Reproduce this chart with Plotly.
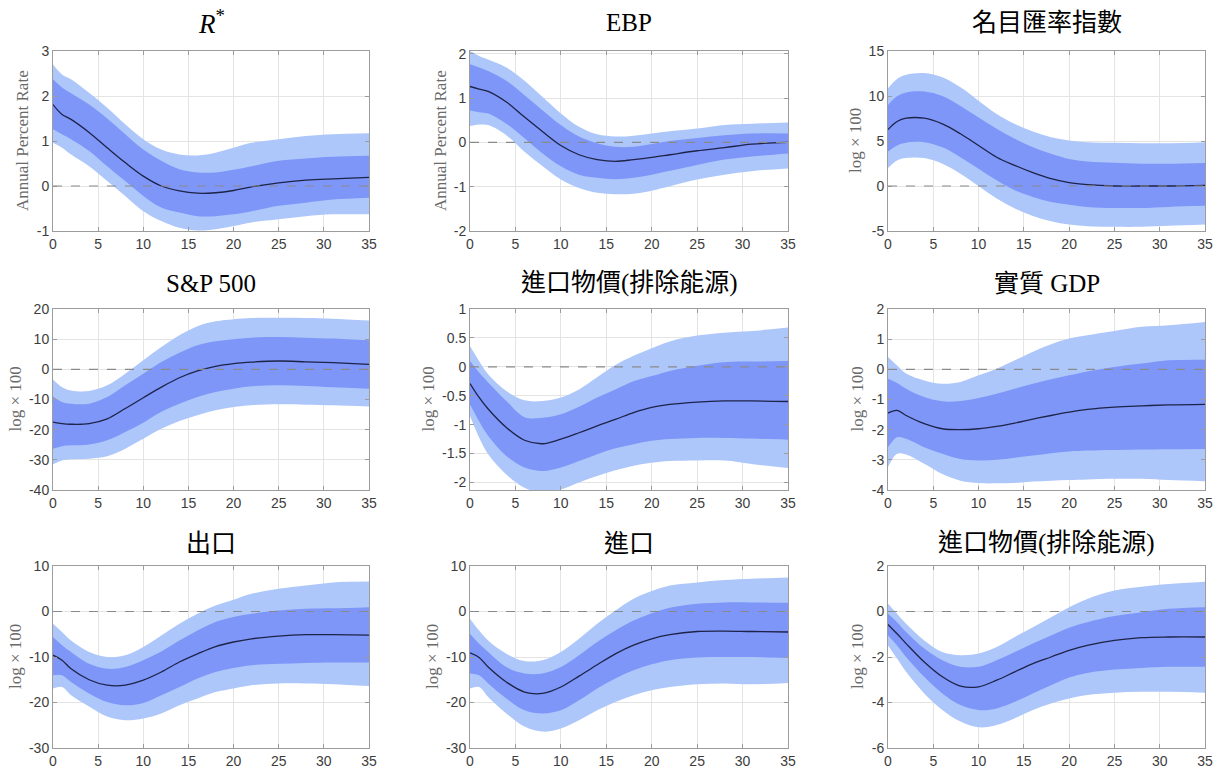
import plotly.graph_objects as go

# ---------------- data ----------------
HORIZON = [0, 1, 2, 4, 6, 8, 10, 12, 14, 16, 18, 20, 22, 25, 28, 31, 35]
X_TICKS = [0, 5, 10, 15, 20, 25, 30, 35]

# R*
rstar_med = [1.81, 1.59, 1.48, 1.19, 0.85, 0.52, 0.22, 0.0, -0.11, -0.16, -0.15, -0.1, -0.02, 0.07, 0.13, 0.16, 0.19]
rstar_in_hi = [2.37, 2.19, 2.06, 1.81, 1.5, 1.15, 0.81, 0.56, 0.37, 0.3, 0.3, 0.36, 0.44, 0.56, 0.61, 0.65, 0.67]
rstar_in_lo = [1.26, 1.15, 1.04, 0.78, 0.44, 0.11, -0.22, -0.48, -0.59, -0.67, -0.67, -0.63, -0.56, -0.44, -0.37, -0.3, -0.26]
rstar_out_hi = [2.7, 2.48, 2.37, 2.07, 1.74, 1.37, 1.04, 0.81, 0.7, 0.68, 0.74, 0.85, 0.96, 1.04, 1.11, 1.15, 1.17]
rstar_out_lo = [0.96, 0.85, 0.7, 0.44, 0.11, -0.22, -0.56, -0.78, -0.93, -0.99, -0.96, -0.89, -0.81, -0.74, -0.67, -0.63, -0.63]

# EBP
ebp_med = [1.26, 1.2, 1.15, 0.91, 0.57, 0.24, -0.07, -0.28, -0.39, -0.43, -0.39, -0.34, -0.28, -0.19, -0.12, -0.04, 0.0]
ebp_in_hi = [1.76, 1.69, 1.61, 1.39, 1.06, 0.72, 0.39, 0.13, -0.02, -0.1, -0.1, -0.04, 0.03, 0.1, 0.16, 0.2, 0.2]
ebp_in_lo = [0.72, 0.68, 0.65, 0.42, 0.09, -0.25, -0.54, -0.73, -0.8, -0.83, -0.8, -0.73, -0.64, -0.51, -0.39, -0.32, -0.25]
ebp_out_hi = [2.06, 1.95, 1.87, 1.69, 1.39, 1.02, 0.65, 0.35, 0.18, 0.13, 0.15, 0.2, 0.25, 0.31, 0.39, 0.42, 0.45]
ebp_out_lo = [0.37, 0.4, 0.39, 0.16, -0.21, -0.54, -0.84, -1.03, -1.14, -1.17, -1.16, -1.09, -0.99, -0.84, -0.73, -0.65, -0.59]

# 名目匯率指數
fx_med = [6.27, 7.16, 7.53, 7.53, 6.9, 5.8, 4.5, 3.2, 2.29, 1.48, 0.81, 0.37, 0.15, 0.0, 0.0, 0.0, 0.07]
fx_in_hi = [9.0, 9.96, 10.4, 10.5, 10.0, 8.9, 7.6, 6.35, 5.24, 4.3, 3.58, 3.0, 2.73, 2.58, 2.47, 2.47, 2.55]
fx_in_lo = [3.84, 4.5, 4.8, 4.87, 4.3, 3.2, 1.92, 0.63, -0.48, -1.22, -1.77, -2.07, -2.32, -2.44, -2.44, -2.32, -2.2]
fx_out_hi = [10.85, 11.9, 12.36, 12.55, 12.07, 10.96, 9.48, 8.0, 6.9, 6.05, 5.42, 5.06, 4.87, 4.8, 4.76, 4.76, 4.87]
fx_out_lo = [2.0, 2.84, 3.1, 3.1, 2.47, 1.37, 0.0, -1.4, -2.5, -3.32, -3.91, -4.28, -4.46, -4.54, -4.54, -4.43, -4.28]

# S&P 500
spx_med = [-17.5, -18.0, -18.2, -18.0, -16.4, -13.0, -9.4, -5.9, -2.8, -0.55, 1.0, 1.9, 2.4, 2.76, 2.5, 2.2, 1.66]
spx_in_hi = [-9.0, -10.8, -11.4, -11.4, -9.2, -5.3, -1.44, 2.4, 5.5, 8.0, 9.3, 10.0, 10.5, 10.7, 10.5, 10.2, 9.6]
spx_in_lo = [-26.3, -25.5, -25.2, -24.9, -23.5, -20.8, -17.7, -14.1, -11.4, -9.2, -7.5, -6.4, -5.6, -5.3, -5.5, -5.9, -6.4]
spx_out_hi = [-3.4, -5.9, -7.0, -7.2, -5.3, -1.44, 3.0, 7.4, 11.3, 14.3, 15.9, 16.6, 17.0, 17.1, 17.0, 16.8, 16.2]
spx_out_lo = [-31.5, -30.2, -29.8, -29.6, -28.8, -26.3, -23.0, -19.7, -17.1, -15.2, -13.6, -12.5, -11.9, -11.6, -11.7, -11.9, -12.3]

# 進口物價(排除能源) — middle row
ipx_med = [-0.29, -0.53, -0.73, -1.05, -1.27, -1.33, -1.25, -1.14, -1.02, -0.91, -0.79, -0.7, -0.65, -0.61, -0.59, -0.59, -0.6]
ipx_in_hi = [0.1, -0.1, -0.27, -0.59, -0.87, -0.88, -0.82, -0.69, -0.53, -0.39, -0.25, -0.16, -0.07, 0.02, 0.08, 0.09, 0.1]
ipx_in_lo = [-0.65, -0.94, -1.19, -1.54, -1.74, -1.8, -1.74, -1.63, -1.51, -1.41, -1.34, -1.28, -1.25, -1.23, -1.23, -1.24, -1.26]
ipx_out_hi = [0.36, 0.1, -0.13, -0.42, -0.58, -0.59, -0.53, -0.39, -0.18, 0.03, 0.19, 0.32, 0.44, 0.54, 0.59, 0.62, 0.68]
ipx_out_lo = [-0.85, -1.22, -1.51, -1.86, -2.09, -2.18, -2.12, -2.0, -1.89, -1.79, -1.71, -1.66, -1.63, -1.62, -1.62, -1.68, -1.75]

# 實質 GDP
gdp_med = [-1.45, -1.36, -1.53, -1.8, -1.97, -2.0, -1.97, -1.89, -1.78, -1.65, -1.53, -1.42, -1.33, -1.25, -1.21, -1.18, -1.16]
gdp_in_hi = [-0.31, -0.45, -0.64, -0.92, -1.06, -1.05, -0.95, -0.81, -0.64, -0.48, -0.33, -0.2, -0.07, 0.08, 0.19, 0.3, 0.32]
gdp_in_lo = [-2.58, -2.25, -2.3, -2.58, -2.8, -2.97, -3.02, -3.0, -2.93, -2.86, -2.78, -2.72, -2.69, -2.67, -2.66, -2.65, -2.64]
gdp_out_hi = [0.41, 0.13, -0.14, -0.37, -0.48, -0.42, -0.2, 0.02, 0.3, 0.58, 0.83, 1.02, 1.13, 1.27, 1.41, 1.46, 1.57]
gdp_out_lo = [-3.24, -2.8, -2.82, -3.13, -3.47, -3.69, -3.77, -3.78, -3.77, -3.72, -3.69, -3.67, -3.65, -3.63, -3.63, -3.67, -3.71]

# 出口
exp_med = [-9.6, -10.7, -12.6, -15.0, -16.2, -16.2, -15.1, -13.3, -11.1, -9.3, -7.7, -6.7, -6.0, -5.4, -5.1, -5.1, -5.2]
exp_in_hi = [-5.6, -7.4, -8.9, -11.5, -12.6, -12.2, -10.7, -8.8, -6.4, -4.2, -2.3, -1.2, -0.5, 0.2, 0.6, 0.7, 0.95]
exp_in_lo = [-14.0, -14.0, -15.5, -18.0, -19.9, -20.6, -20.1, -18.4, -16.6, -14.7, -13.3, -12.4, -11.8, -11.5, -11.3, -11.2, -11.2]
exp_out_hi = [-2.7, -4.5, -6.4, -8.9, -10.0, -9.6, -7.8, -5.3, -2.7, -0.5, 1.3, 2.6, 3.9, 5.0, 5.7, 6.4, 6.6]
exp_out_lo = [-16.9, -16.6, -18.4, -20.9, -23.1, -23.9, -23.5, -22.4, -20.6, -19.1, -17.7, -16.9, -16.2, -15.8, -15.8, -16.0, -16.4]

# 進口
imp_med = [-9.1, -10.1, -12.2, -15.5, -17.7, -18.0, -16.6, -14.2, -11.7, -9.3, -7.4, -6.0, -5.1, -4.4, -4.3, -4.4, -4.5]
imp_in_hi = [-4.9, -7.1, -8.9, -12.2, -13.6, -13.6, -12.2, -9.6, -6.7, -4.2, -2.0, -0.4, 0.8, 1.7, 2.0, 2.0, 1.9]
imp_in_lo = [-13.6, -14.0, -15.8, -19.1, -21.7, -22.4, -21.7, -19.5, -16.9, -14.7, -12.9, -11.6, -10.7, -10.1, -10.0, -10.0, -10.2]
imp_out_hi = [-1.6, -4.2, -6.4, -9.3, -10.9, -10.7, -8.9, -6.0, -2.7, 0.2, 2.8, 4.5, 5.7, 6.4, 6.9, 7.2, 7.5]
imp_out_lo = [-16.9, -16.6, -18.8, -22.4, -25.3, -26.4, -25.7, -23.9, -21.7, -19.9, -18.4, -17.3, -16.6, -16.0, -15.8, -16.0, -15.7]

# 進口物價(排除能源) — bottom row
ipx2_med = [-0.57, -0.98, -1.41, -2.22, -2.87, -3.28, -3.31, -3.02, -2.65, -2.29, -2.0, -1.71, -1.49, -1.27, -1.15, -1.12, -1.12]
ipx2_in_hi = [-0.1, -0.47, -0.9, -1.63, -2.14, -2.43, -2.43, -2.14, -1.78, -1.41, -1.05, -0.71, -0.47, -0.2, -0.03, 0.12, 0.19]
ipx2_in_lo = [-1.05, -1.49, -2.0, -2.87, -3.6, -4.11, -4.33, -4.26, -3.97, -3.6, -3.24, -2.9, -2.7, -2.55, -2.48, -2.43, -2.43]
ipx2_out_hi = [0.34, -0.1, -0.54, -1.27, -1.78, -1.92, -1.85, -1.56, -1.12, -0.69, -0.25, 0.19, 0.55, 0.92, 1.09, 1.21, 1.31]
ipx2_out_lo = [-1.49, -2.07, -2.65, -3.6, -4.33, -4.84, -5.09, -4.99, -4.69, -4.33, -4.04, -3.82, -3.67, -3.57, -3.53, -3.53, -3.57]

TITLES = ["<i>R</i><sup>*</sup>", "EBP", "名目匯率指數",
          "S&P 500", "進口物價(排除能源)", "實質 GDP",
          "出口", "進口", "進口物價(排除能源)"]
Y_TITLES = ["Annual Percent Rate", "Annual Percent Rate", "log × 100",
            "log × 100", "log × 100", "log × 100",
            "log × 100", "log × 100", "log × 100"]
Y_TICKS = [[-1, 0, 1, 2, 3], [-2, -1, 0, 1, 2], [-5, 0, 5, 10, 15],
           [-40, -30, -20, -10, 0, 10, 20], [-2, -1.5, -1, -0.5, 0, 0.5, 1], [-4, -3, -2, -1, 0, 1, 2],
           [-30, -20, -10, 0, 10], [-30, -20, -10, 0, 10], [-6, -4, -2, 0, 2]]
Y_RANGES = [[-1, 3], [-2, 2.06], [-5, 15],
            [-40, 20], [-2.13, 1], [-4, 2],
            [-30, 10], [-30, 10], [-6, 2]]

SERIES = [
    (rstar_med, rstar_in_lo, rstar_in_hi, rstar_out_lo, rstar_out_hi),
    (ebp_med, ebp_in_lo, ebp_in_hi, ebp_out_lo, ebp_out_hi),
    (fx_med, fx_in_lo, fx_in_hi, fx_out_lo, fx_out_hi),
    (spx_med, spx_in_lo, spx_in_hi, spx_out_lo, spx_out_hi),
    (ipx_med, ipx_in_lo, ipx_in_hi, ipx_out_lo, ipx_out_hi),
    (gdp_med, gdp_in_lo, gdp_in_hi, gdp_out_lo, gdp_out_hi),
    (exp_med, exp_in_lo, exp_in_hi, exp_out_lo, exp_out_hi),
    (imp_med, imp_in_lo, imp_in_hi, imp_out_lo, imp_out_hi),
    (ipx2_med, ipx2_in_lo, ipx2_in_hi, ipx2_out_lo, ipx2_out_hi),
]

# ---------------- styling / layout ----------------
W, H = 1219, 771
COL_PX = [(53, 369), (470, 788), (888, 1205)]
ROW_PX = [(51, 231), (309, 490), (566, 748)]
TITLE_Y_PX = [22, 283, 543]
YTITLE_X_PX = [22, 440, 855, 15, 428, 857, 15, 432, 857]

LIGHT = "#aec7fb"
DARK = "#7d96f8"
MEDIAN = "#1e2347"
FRAME = "#9c9c9c"
GRID = "#e4e4e4"
TICKFONT = dict(family="Liberation Sans, Arial, sans-serif", size=14, color="#3d3d3d")
TITLEFONT = dict(family="Liberation Serif, Times New Roman, Noto Sans CJK TC, serif", size=25, color="#000000")
RSTARFONT = dict(family="Liberation Serif, Times New Roman, serif", size=27, color="#000000")
YTFONT = dict(family="Liberation Serif, Times New Roman, serif", size=17, color="#6a6a6a")


def fmt(v):
    return "%g" % v


fig = go.Figure()
layout = dict(width=W, height=H, margin=dict(l=0, r=0, t=0, b=0),
              paper_bgcolor="white", plot_bgcolor="white", showlegend=False,
              annotations=[], shapes=[])

for i in range(9):
    r, c = divmod(i, 3)
    k = i + 1
    xs = "x" if k == 1 else f"x{k}"
    ys = "y" if k == 1 else f"y{k}"
    med, in_lo, in_hi, out_lo, out_hi = SERIES[i]
    common = dict(x=HORIZON, xaxis=xs, yaxis=ys, mode="lines", hoverinfo="skip", showlegend=False)
    spl = dict(shape="spline", smoothing=1.0)
    fig.add_trace(go.Scatter(y=out_lo, line=dict(width=0, color=LIGHT, **spl), **common))
    fig.add_trace(go.Scatter(y=out_hi, fill="tonexty", fillcolor=LIGHT, line=dict(width=0, color=LIGHT, **spl), **common))
    fig.add_trace(go.Scatter(y=in_lo, line=dict(width=0, color=DARK, **spl), **common))
    fig.add_trace(go.Scatter(y=in_hi, fill="tonexty", fillcolor=DARK, line=dict(width=0, color=DARK, **spl), **common))
    fig.add_trace(go.Scatter(y=med, line=dict(width=1.3, color=MEDIAN, **spl), **common))

    x0, x1 = COL_PX[c]
    y0, y1 = ROW_PX[r]
    axis_common = dict(showgrid=True, gridcolor=GRID, gridwidth=1, showline=True, linecolor=FRAME,
                       linewidth=1, mirror="ticks", ticks="inside", ticklen=4, tickcolor=FRAME,
                       tickfont=TICKFONT, zeroline=False, automargin=False, fixedrange=True)
    layout["xaxis" if k == 1 else f"xaxis{k}"] = dict(
        domain=[x0 / W, x1 / W], range=[0, 35], anchor=ys,
        tickvals=X_TICKS, ticktext=[fmt(v) for v in X_TICKS], **axis_common)
    layout["yaxis" if k == 1 else f"yaxis{k}"] = dict(
        domain=[1 - y1 / H, 1 - y0 / H], range=Y_RANGES[i], anchor=xs,
        tickvals=Y_TICKS[i], ticktext=[fmt(v) for v in Y_TICKS[i]], **axis_common)

    # zero reference line
    layout["shapes"].append(dict(type="line", xref=f"{xs} domain", yref=ys, x0=0, x1=1, y0=0, y1=0,
                                 line=dict(color="#8a8a8a", width=1.2, dash="dash"), layer="above"))
    # panel title
    layout["annotations"].append(dict(text=TITLES[i], xref="paper", yref="paper",
                                      x=((x0 + x1) / 2) / W, y=1 - TITLE_Y_PX[r] / H,
                                      xanchor="center", yanchor="middle", showarrow=False,
                                      font=RSTARFONT if i == 0 else TITLEFONT))
    # y-axis title
    layout["annotations"].append(dict(text=Y_TITLES[i], xref="paper", yref="paper",
                                      x=YTITLE_X_PX[i] / W, y=1 - ((y0 + y1) / 2) / H, textangle=-90,
                                      xanchor="center", yanchor="middle", showarrow=False, font=YTFONT))

fig.update_layout(**layout)

fig.write_html("out.html",
               config={"displayModeBar": False, "staticPlot": True},
               post_script="document.body.style.margin='0';document.body.style.padding='0';"
                           "document.documentElement.style.overflow='hidden';")
